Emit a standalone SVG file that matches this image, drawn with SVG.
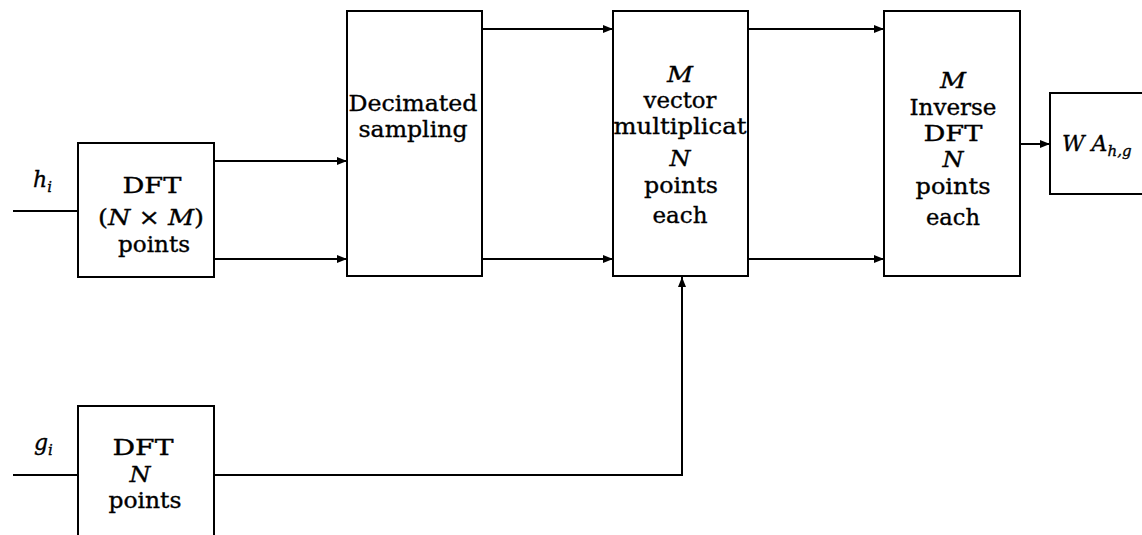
<svg xmlns="http://www.w3.org/2000/svg" width="1142" height="535" viewBox="0 0 1142 535">
<style>
.box{fill:#fff;stroke:#000;stroke-width:2}
.ln{fill:none;stroke:#000;stroke-width:2}
text{font-family:"DejaVu Serif","Liberation Serif",serif;font-size:22px;fill:#000;stroke:#000;stroke-width:0.35}
.c{text-anchor:middle}
.i{font-style:italic}
.sub{font-size:15px;font-style:italic}
</style>
<defs>
<marker id="ah" markerUnits="userSpaceOnUse" markerWidth="10" markerHeight="8" refX="10" refY="4" orient="auto">
<path d="M0,0 L10,4 L0,8 Z" fill="#000"/>
</marker>
</defs>
<rect width="1142" height="535" fill="#fff"/>
<g id="connectors">
<path class="ln" d="M13 211 H78"/>
<path class="ln" d="M214 161 H347" marker-end="url(#ah)"/>
<path class="ln" d="M214 259 H347" marker-end="url(#ah)"/>
<path class="ln" d="M482 29 H613" marker-end="url(#ah)"/>
<path class="ln" d="M482 259 H613" marker-end="url(#ah)"/>
<path class="ln" d="M748 29 H884" marker-end="url(#ah)"/>
<path class="ln" d="M748 259 H884" marker-end="url(#ah)"/>
<path class="ln" d="M1020 144 H1050" marker-end="url(#ah)"/>
<path class="ln" d="M13 475 H78"/>
<path class="ln" d="M214 475 H682 V277" marker-end="url(#ah)"/>
</g>
<g id="label-h">
<text x="33" y="187" class="i" font-size="24">h<tspan class="sub" dy="5">i</tspan></text>
</g>
<g id="label-g">
<text x="34" y="450" class="i" font-size="24">g<tspan class="sub" dy="5">i</tspan></text>
</g>
<g id="dft-nm">
<rect class="box" x="78" y="143" width="136" height="134"/>
<text x="152" y="193" class="c" textLength="59" lengthAdjust="spacingAndGlyphs">DFT</text>
<text x="151" y="225" class="c" textLength="106" lengthAdjust="spacingAndGlyphs">(<tspan class="i">N</tspan> × <tspan class="i">M</tspan>)</text>
<text x="154" y="252" class="c" textLength="72" lengthAdjust="spacingAndGlyphs">points</text>
</g>
<g id="decimated">
<rect class="box" x="347" y="11" width="135" height="265"/>
<text x="413" y="111" class="c" textLength="129" lengthAdjust="spacingAndGlyphs">Decimated</text>
<text x="413" y="137" class="c" textLength="109" lengthAdjust="spacingAndGlyphs">sampling</text>
</g>
<g id="vector-mult">
<rect class="box" x="613" y="11" width="135" height="265"/>
<text x="680" y="82" class="c i" textLength="26" lengthAdjust="spacingAndGlyphs">M</text>
<text x="680" y="108" class="c" textLength="73" lengthAdjust="spacingAndGlyphs">vector</text>
<text x="680" y="134" class="c" textLength="133" lengthAdjust="spacingAndGlyphs">multiplicat</text>
<text x="680" y="166" class="c i" textLength="21" lengthAdjust="spacingAndGlyphs">N</text>
<text x="681" y="193" class="c" textLength="74" lengthAdjust="spacingAndGlyphs">points</text>
<text x="680" y="223" class="c" textLength="55" lengthAdjust="spacingAndGlyphs">each</text>
</g>
<g id="inverse-dft">
<rect class="box" x="884" y="11" width="136" height="265"/>
<text x="953" y="88" class="c i" textLength="26" lengthAdjust="spacingAndGlyphs">M</text>
<text x="953" y="115" class="c" textLength="87" lengthAdjust="spacingAndGlyphs">Inverse</text>
<text x="953" y="141" class="c" textLength="59" lengthAdjust="spacingAndGlyphs">DFT</text>
<text x="953" y="167" class="c i" textLength="21" lengthAdjust="spacingAndGlyphs">N</text>
<text x="953" y="194" class="c" textLength="75" lengthAdjust="spacingAndGlyphs">points</text>
<text x="953" y="225" class="c" textLength="54" lengthAdjust="spacingAndGlyphs">each</text>
</g>
<g id="wa">
<rect class="box" x="1050" y="93" width="110" height="101"/>
<text x="1062" y="151" class="i" font-size="24">W A<tspan class="sub" dy="5">h,g</tspan></text>
</g>
<g id="dft-n">
<rect class="box" x="78" y="406" width="136" height="150"/>
<text x="143" y="455" class="c" textLength="61" lengthAdjust="spacingAndGlyphs">DFT</text>
<text x="140" y="482" class="c i" textLength="21" lengthAdjust="spacingAndGlyphs">N</text>
<text x="145" y="508" class="c" textLength="73" lengthAdjust="spacingAndGlyphs">points</text>
</g>
</svg>
